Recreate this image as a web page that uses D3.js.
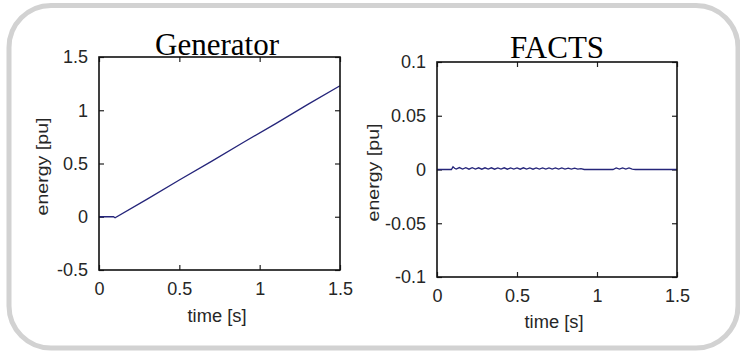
<!DOCTYPE html>
<html>
<head>
<meta charset="utf-8">
<script src="https://cdn.jsdelivr.net/npm/d3@7/dist/d3.min.js"></script>
<style>
  html, body { margin: 0; padding: 0; background: #ffffff; }
  svg { display: block; }
  .tick-label { font-family: "Liberation Sans", Arial, sans-serif; fill: #262626; }
  .title { font-family: "Liberation Serif", "Times New Roman", serif; fill: #000; }
</style>
</head>
<body>
<svg id="chart" width="740" height="352"></svg>
<script>
// ---------- data ----------
const panelTitles = ["Generator", "FACTS"];
const xLabel = "time [s]";
const yLabel = "energy [pu]";

const xTicks = [0, 0.5, 1, 1.5];
const xTickLabels = ["0", "0.5", "1", "1.5"];

const genYTicks = [-0.5, 0, 0.5, 1, 1.5];
const genYTickLabels = ["-0.5", "0", "0.5", "1", "1.5"];
const factsYTicks = [-0.1, -0.05, 0, 0.05, 0.1];
const factsYTickLabels = ["-0.1", "-0.05", "0", "0.05", "0.1"];

// Generator energy
const genTime   = [0, 0.09, 0.10, 0.30, 0.50, 0.70, 0.90, 1.10, 1.30, 1.50];
const genEnergy = [0, 0.00, -0.01, 0.165, 0.345, 0.52, 0.70, 0.875, 1.055, 1.23];

// FACTS energy (tiny oscillations)
const factsTime = [0, 0.09, 0.10, 0.11, 0.12, 0.14, 0.16, 0.18, 0.20, 0.22, 0.24, 0.26, 0.28, 0.30,
  0.32, 0.34, 0.36, 0.38, 0.40, 0.42, 0.44, 0.46, 0.48, 0.50, 0.52, 0.54, 0.56, 0.58, 0.60,
  0.62, 0.64, 0.66, 0.68, 0.70, 0.72, 0.74, 0.76, 0.78, 0.80, 0.82, 0.84, 0.86, 0.88, 0.90, 0.92,
  1.10, 1.12, 1.14, 1.16, 1.18, 1.20, 1.22, 1.24, 1.50];
const factsEnergy = [0, 0, 0.0025, 0.0012, 0.0004, 0.0018, 0.0004, 0.0017, 0.0003, 0.0017, 0.0004, 0.0016, 0.0003, 0.0016,
  0.0004, 0.0016, 0.0003, 0.0015, 0.0004, 0.0016, 0.0003, 0.0015, 0.0004, 0.0015, 0.0003, 0.0016, 0.0004, 0.0015, 0.0003,
  0.0015, 0.0004, 0.0014, 0.0003, 0.0015, 0.0004, 0.0014, 0.0003, 0.0014, 0.0004, 0.0013, 0.0003, 0.0012, 0.0003, 0.0008, 0,
  0, 0.0014, 0.0003, 0.0015, 0.0003, 0.0014, 0.0003, 0, 0];

// ---------- drawing ----------
const svg = d3.select("#chart");

// outer rounded frame
svg.append("rect")
  .attr("x", 9).attr("y", 5.5)
  .attr("width", 729).attr("height", 342.5)
  .attr("rx", 42).attr("ry", 42)
  .attr("fill", "#ffffff")
  .attr("stroke", "#d2d2d2")
  .attr("stroke-width", 5);

const panels = [
  { title: panelTitles[0], left: 99, right: 340, top: 57, bottom: 270,
    yDomain: [-0.5, 1.5], yTicks: genYTicks, yTickLabels: genYTickLabels,
    xs: genTime, ys: genEnergy, titleX: 217, titleY: 55, yLabelX: 42, xLabelX: 217, xLabelY: 322 },
  { title: panelTitles[1], left: 437, right: 677, top: 62, bottom: 277,
    yDomain: [-0.1, 0.1], yTicks: factsYTicks, yTickLabels: factsYTickLabels,
    xs: factsTime, ys: factsEnergy, titleX: 557, titleY: 58, yLabelX: 373, xLabelX: 554, xLabelY: 328 }
];

panels.forEach(p => {
  const g = svg.append("g");
  const x = d3.scaleLinear().domain([0, 1.5]).range([p.left, p.right]);
  const y = d3.scaleLinear().domain(p.yDomain).range([p.bottom, p.top]);

  const ax = d3.axisBottom(x).tickValues(xTicks).tickSize(-5).tickPadding(12)
    .tickFormat((d, i) => xTickLabels[i]);
  const gx = g.append("g").attr("transform", `translate(0,${p.bottom})`).call(ax);
  const ay = d3.axisLeft(y).tickValues(p.yTicks).tickSize(-5).tickPadding(11)
    .tickFormat((d, i) => p.yTickLabels[i]);
  const gy = g.append("g").attr("transform", `translate(${p.left},0)`).call(ay);
  const gt = g.append("g").attr("transform", `translate(0,${p.top})`)
    .call(d3.axisTop(x).tickValues(xTicks).tickSize(-5).tickFormat(""));
  const gr = g.append("g").attr("transform", `translate(${p.right},0)`)
    .call(d3.axisRight(y).tickValues(p.yTicks).tickSize(-5).tickFormat(""));

  [gx, gy, gt, gr].forEach(a => {
    a.select(".domain").remove();
    a.selectAll("line").attr("stroke", "#222").attr("stroke-width", 1.2);
    a.selectAll("text").attr("class", "tick-label").attr("font-size", 18);
  });

  const line = d3.line().x((d, i) => x(p.xs[i])).y((d, i) => y(p.ys[i]));
  g.append("path")
    .datum(p.ys)
    .attr("d", line)
    .attr("fill", "none")
    .attr("stroke", "#25257a")
    .attr("stroke-width", 1.3);

  g.append("rect")
    .attr("x", p.left).attr("y", p.top)
    .attr("width", p.right - p.left).attr("height", p.bottom - p.top)
    .attr("fill", "none").attr("stroke", "#111").attr("stroke-width", 1.6);

  g.append("text").attr("class", "title")
    .attr("x", p.titleX).attr("y", p.titleY)
    .attr("text-anchor", "middle").attr("font-size", 31)
    .text(p.title);

  g.append("text").attr("class", "tick-label")
    .attr("x", p.xLabelX).attr("y", p.xLabelY)
    .attr("text-anchor", "middle").attr("font-size", 18)
    .attr("textLength", 59).attr("lengthAdjust", "spacingAndGlyphs")
    .text(xLabel);

  g.append("text").attr("class", "tick-label")
    .attr("transform", `translate(${p.yLabelX + 6},${(p.top + p.bottom) / 2 + 3}) rotate(-90)`)
    .attr("text-anchor", "middle").attr("font-size", 17)
    .attr("textLength", 98).attr("lengthAdjust", "spacingAndGlyphs")
    .text(yLabel);
});
</script>
</body>
</html>
